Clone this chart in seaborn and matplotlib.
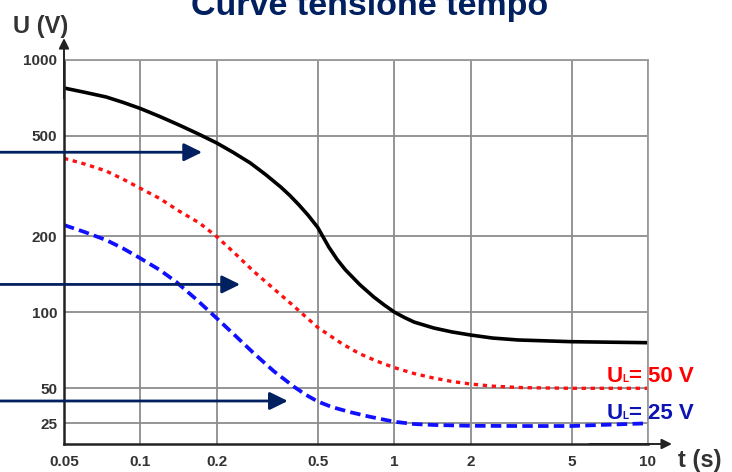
import numpy as np
import matplotlib
matplotlib.use("Agg")
import matplotlib.pyplot as plt
import seaborn as sns
from matplotlib.ticker import FixedLocator, NullLocator

# Tripping curves: time (s) against touch voltage U (V)
t_solid = [0.05, 0.0603, 0.0733, 0.0856, 0.1, 0.1192, 0.142, 0.1686, 0.2,
           0.2328, 0.2711, 0.3112, 0.3572, 0.3881, 0.4217, 0.459, 0.5,
           0.5524, 0.596, 0.643, 0.7311, 0.831, 0.914, 1.0, 1.097, 1.198,
           1.43, 1.691, 2.0, 2.437, 3.08, 5.0, 10.0]
u_solid = [774.5, 744.7, 713.6, 678.8, 642.3, 597.2, 552.6, 510.0, 468.8,
           429.5, 390.7, 351.8, 313.8, 290.4, 266.3, 241.9, 216.8,
           181.5, 161.9, 147.2, 128.9, 115.0, 106.9, 100.3, 95.4, 91.5,
           86.7, 83.6, 81.3, 79.1, 77.7, 76.5, 75.8]

t_ul50 = [0.05, 0.0603, 0.0733, 0.0856, 0.1, 0.1192, 0.142, 0.1709, 0.2,
          0.2372, 0.2799, 0.3273, 0.3934, 0.5, 0.625, 0.7275, 0.8557, 1.0,
          1.198, 1.43, 1.691, 2.0, 2.437, 3.19, 5.0, 10.0]
u_ul50 = [407.7, 387.1, 363.1, 336.7, 310.0, 282.5, 252.0, 225.9, 199.4,
          170.2, 145.1, 126.6, 107.9, 87.1, 74.9, 68.7, 64.0, 60.4,
          57.2, 54.9, 53.2, 52.0, 51.0, 50.3, 50.0, 50.0]

t_ul25 = [0.05, 0.0603, 0.0733, 0.0856, 0.1, 0.1192, 0.1382, 0.1663, 0.2,
          0.2372, 0.2799, 0.3351, 0.4029, 0.4499, 0.5, 0.5683, 0.6743, 0.8,
          1.0, 1.198, 1.43, 2.0, 3.19, 5.0, 6.53, 10.0]
u_ul25 = [221.8, 208.1, 193.4, 179.0, 163.7, 147.2, 132.2, 112.4, 94.7,
          80.6, 68.8, 58.5, 50.7, 43.8, 38.5, 34.5, 31.1, 28.5,
          25.8, 24.65, 24.2, 23.8, 23.7, 23.7, 24.2, 25.0]

x_ticks = [0.05, 0.1, 0.2, 0.5, 1, 2, 5, 10]
x_tick_labels = ["0.05", "0.1", "0.2", "0.5", "1", "2", "5", "10"]
y_ticks = [25, 50, 100, 200, 500, 1000]
y_tick_labels = ["25", "50", "100", "200", "500", "1000"]

# arrow tips (t, U) for the three pointers coming in from the left
arrow_tips = [(0.175, 431), (0.247, 129), (0.381, 38.9)]

sns.set_theme(style="white")
plt.rcParams["font.family"] = ["Liberation Sans", "DejaVu Sans"]

W, H = 732, 472
fig = plt.figure(figsize=(W / 100, H / 100), dpi=100)
ax = fig.add_axes([64 / W, 28 / H, 584 / W, 384 / H])

# voltage axis: logarithmic down to 50 V, compressed logarithmic below
L50 = np.log10(50.0)
K = 0.461


def fwd(v):
    v = np.clip(np.asarray(v, dtype=float), 1e-6, None)
    lv = np.log10(v)
    return np.where(v >= 50, lv, L50 + K * (lv - L50))


def inv(z):
    z = np.asarray(z, dtype=float)
    return np.where(z >= L50, 10 ** z, 10 ** (L50 + (z - L50) / K))


ax.set_xscale("log")
ax.set_yscale("function", functions=(fwd, inv))

sns.lineplot(x=t_solid, y=u_solid, ax=ax, color="black", lw=2.6,
             estimator=None, sort=False, solid_joinstyle="round")
sns.lineplot(x=t_ul50, y=u_ul50, ax=ax, color="#ff1010", lw=2.4,
             linestyle=(0, (1.3, 1.4)), dash_capstyle="butt",
             estimator=None, sort=False)
sns.lineplot(x=t_ul25, y=u_ul25, ax=ax, color="#1010ff", lw=2.7,
             linestyle=(0, (2.8, 1.4)), dash_capstyle="butt",
             estimator=None, sort=False)

ax.set_xlim(0.05, 10)
ax.set_ylim(16.6, 1000)

ax.xaxis.set_major_locator(FixedLocator(x_ticks))
ax.xaxis.set_minor_locator(NullLocator())
ax.yaxis.set_major_locator(FixedLocator(y_ticks))
ax.yaxis.set_minor_locator(NullLocator())
ax.set_xticklabels(x_tick_labels, fontweight="bold")
ax.set_yticklabels(y_tick_labels, fontweight="bold")
ax.tick_params(axis="both", length=0, labelsize=11, labelcolor="#333333")
ax.tick_params(axis="x", pad=8)
ax.tick_params(axis="y", pad=5)

ax.grid(True, which="major", color="#8c8c8c", lw=1.3)
ax.set_axisbelow(True)
for side in ("top", "right"):
    ax.spines[side].set_color("#9a9a9a")
    ax.spines[side].set_linewidth(1.3)
for side in ("left", "bottom"):
    ax.spines[side].set_color("#222222")
    ax.spines[side].set_linewidth(1.8)

# axis arrows
axis_arrow = dict(arrowstyle="-|>,head_length=6,head_width=3", mutation_scale=1,
                  color="#222222", lw=1.4, shrinkA=0, shrinkB=0)
ax.annotate("", xy=(0, 1.057), xytext=(0, 0.9), xycoords="axes fraction",
            textcoords="axes fraction", arrowprops=axis_arrow, annotation_clip=False)
ax.annotate("", xy=(1.041, 0), xytext=(0.9, 0), xycoords="axes fraction",
            textcoords="axes fraction", arrowprops=axis_arrow, annotation_clip=False)

# pointers coming in from the left edge
navy = "#002060"
pointer = dict(arrowstyle="-|>,head_length=11,head_width=5.4", mutation_scale=1,
               color=navy, lw=2.0, shrinkA=0, shrinkB=0)
for t, u in arrow_tips:
    ax.annotate("", xy=(t, u), xycoords="data", xytext=(-0.01, u),
                textcoords=("figure fraction", "data"), arrowprops=pointer,
                annotation_clip=False)

# titles and axis names
fig.text(369.5 / W, 1 - 15 / H, "Curve tensione tempo", ha="center", va="baseline",
         fontsize=24.5, fontweight="bold", color=navy)
fig.text(13 / W, 1 - 32.5 / H, "U (V)", ha="left", va="baseline",
         fontsize=17, fontweight="bold", color="#333333")
fig.text(678 / W, 1 - 466.5 / H, "t (s)", ha="left", va="baseline",
         fontsize=17, fontweight="bold", color="#333333")

# curve names with a small subscript L
renderer = fig.canvas.get_renderer()


def curve_name(x_px, y_px, rest, color, size=16):
    kw = dict(va="baseline", ha="left", fontweight="bold", color=color)
    a = fig.text(x_px / W, 1 - y_px / H, "U", fontsize=size, **kw)
    x_px += a.get_window_extent(renderer).width
    b = fig.text(x_px / W, 1 - y_px / H, "L", fontsize=size * 0.45, **kw)
    x_px += b.get_window_extent(renderer).width
    fig.text(x_px / W, 1 - y_px / H, rest, fontsize=size, **kw)


curve_name(606.5, 381.7, "= 50 V", "#ff0000")
curve_name(606.5, 419.0, "= 25 V", "#0c14b4")

fig.savefig("out.png", dpi=100)
